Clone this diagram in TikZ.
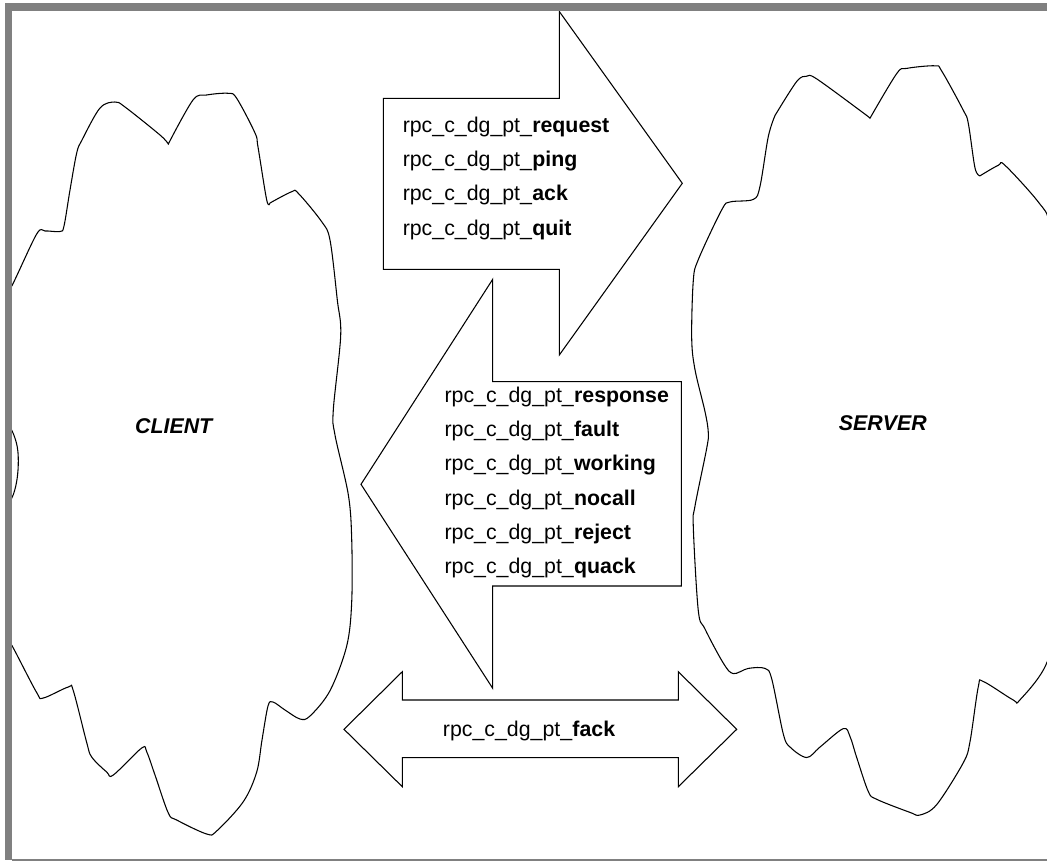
\documentclass[tikz,border=0pt]{standalone}
\usepackage{fontspec}
\setmainfont{Liberation Sans}
\usepackage{tikz}
\definecolor{framegray}{HTML}{808080}
\tikzstyle{msg}=[anchor=base west, inner sep=0pt, font=\fontsize{16}{19}\selectfont]
\tikzstyle{side}=[inner sep=0pt, font=\fontsize{16}{19}\selectfont\bfseries\itshape]
\tikzstyle{bigarrow}=[draw, fill=white, line width=0.8pt, line join=miter]
\tikzstyle{cloudline}=[draw, line width=0.8pt]
\tikzstyle{framebar}=[fill=framegray]

\begin{document}
\begin{tikzpicture}[x=0.75pt, y=-0.75pt]
                    \useasboundingbox (0, 0) rectangle (1047, 861);
                    \begin{scope}
                        \clip (12, 11) rectangle (1047, 858.5);
                        % client cloud
                        \draw[cloudline] plot[smooth, tension=0.55] coordinates {
                            (0, 305) (12.3, 285) (36.7, 234) (45, 231) (60, 231.5) (64, 226)
                            (70, 190) (76.7, 153) (82, 140) (100, 108) (115, 102) (125, 107)
                            (160, 135) (168.3, 144)}
                            -- plot[smooth, tension=0.55] coordinates {
                            (168.3, 144) (193, 100) (206.7, 95) (228.3, 93.3) (236.7, 98.3)
                            (255, 133) (258, 147) (266.7, 200) (270, 203)}
                            -- plot[smooth, tension=0.55] coordinates {
                            (270, 203) (291.7, 191.7) (298.3, 193.3) (321.7, 221.7) (330, 240)
                            (337.3, 300) (340.7, 335.5) (333.3, 410) (335, 435) (348.3, 494.6)
                            (351.7, 539) (351.7, 602) (346.7, 646) (330, 690.7) (310, 716)
                            (300, 719) (285, 710) (273, 702) (268, 706) (262, 740) (256.7, 772)
                            (243.3, 801.7) (216.7, 831) (206.7, 834) (176.7, 820) (168.3, 813)
                            (155, 775) (146.7, 751.8) (141.7, 748) (113.3, 775) (106.7, 772)
                            (91.7, 757) (86.7, 742.5) (73.3, 690.7) (68.3, 687) (43.3, 698)
                            (36.7, 692.6) (13.3, 648) (0, 625)};
                        \draw[cloudline] plot[smooth, tension=0.7] coordinates {
                            (0, 415) (13.3, 433.6) (18.3, 461) (13.3, 494.6) (0, 512)};
                        % server cloud
                        \draw[cloudline] plot[smooth, tension=0.55] coordinates {
                            (775, 115.5) (796.7, 81.5) (806.7, 76.2) (816.7, 78.9) (863.3, 112.9)
                            (870, 118.2)}
                            -- plot[smooth, tension=0.55] coordinates {
                            (870, 118.2) (896.7, 73.6) (906.7, 68.4) (935, 65.8) (941.7, 71)
                            (963.3, 110.3) (968.3, 123.4) (975, 168) (980, 175.8)}
                            -- plot[smooth, tension=0.55] coordinates {
                            (980, 175.8) (998.3, 165.3) (1005, 165.3) (1038.3, 202) (1050, 225)
                            (1060, 300) (1060, 600) (1046.7, 663) (1020, 699.8) (1013.3, 700)
                            (983.3, 681.5) (978.3, 686.7) (970, 741.7) (963.3, 762.7)
                            (936.7, 804.6) (920, 815) (910, 812.4) (876.7, 799.3) (868.3, 791.5)
                            (856.7, 757.5) (850, 736.5) (843.3, 728.6) (820, 747) (806.7, 757.5)
                            (790, 747) (783.3, 734) (771.7, 678.8) (765, 668.4) (748.3, 668.4)
                            (733.3, 673.6) (723.3, 663.1) (705, 629) (698.3, 610.7) (693.3, 526.9)
                            (695, 506) (706.7, 448.3) (708.3, 432.6) (705, 411.6) (695, 369.7)
                            (691.7, 338.2) (693.3, 280.6) (698.3, 259.6) (721.7, 209.9) (730, 202)
                            (753.3, 199.4) (760, 186.3) (768.3, 136.5) (775, 115.5)};
                    \end{scope}
                    \node[side] (client) at (173.7, 425.8) {CLIENT};
                    \node[side] (server) at (882.8, 422.8) {SERVER};
                    % client -> server
                    \draw[bigarrow] (383.3, 98.3) -- (559.3, 98.3) -- (559.3, 11.5) -- (682.3, 183.3)
                        -- (559.3, 355) -- (559.3, 269.3) -- (383.3, 269.3) -- cycle;
                    \node[msg] (request) at (402.5, 132) {rpc\_c\_dg\_pt\_\textbf{request}};
                    \node[msg] (ping) at (402.5, 166.4) {rpc\_c\_dg\_pt\_\textbf{ping}};
                    \node[msg] (ack) at (402.5, 200.8) {rpc\_c\_dg\_pt\_\textbf{ack}};
                    \node[msg] (quit) at (402.5, 235.2) {rpc\_c\_dg\_pt\_\textbf{quit}};
                    % server -> client
                    \draw[bigarrow] (681.3, 381.7) -- (681.3, 586) -- (492.7, 586) -- (492.7, 688.3)
                        -- (361, 484.3) -- (492.7, 279.3) -- (492.7, 381.7) -- cycle;
                    \node[msg] (response) at (444.3, 402.3) {rpc\_c\_dg\_pt\_\textbf{response}};
                    \node[msg] (fault) at (444.3, 436.6) {rpc\_c\_dg\_pt\_\textbf{fault}};
                    \node[msg] (working) at (444.3, 470.9) {rpc\_c\_dg\_pt\_\textbf{working}};
                    \node[msg] (nocall) at (444.3, 505.2) {rpc\_c\_dg\_pt\_\textbf{nocall}};
                    \node[msg] (reject) at (444.3, 539.5) {rpc\_c\_dg\_pt\_\textbf{reject}};
                    \node[msg] (quack) at (444.3, 573.8) {rpc\_c\_dg\_pt\_\textbf{quack}};
                    % both ways
                    \draw[bigarrow] (344, 729.3) -- (402.3, 671.7) -- (402.3, 700) -- (678.3, 700)
                        -- (678.3, 671.7) -- (736.7, 729.3) -- (678.3, 786.7) -- (678.3, 757.7)
                        -- (402.3, 757.7) -- (402.3, 786.7) -- cycle;
                    \node[msg] (fack) at (442.7, 736) {rpc\_c\_dg\_pt\_\textbf{fack}};
                    % frame
                    \fill[framebar] (5, 3) rectangle (1047, 11);
                    \fill[framebar] (5, 3) rectangle (12, 860);
                    \fill[framebar] (12, 858.5) rectangle (1047, 860.5);
                \end{tikzpicture}
\end{document}
